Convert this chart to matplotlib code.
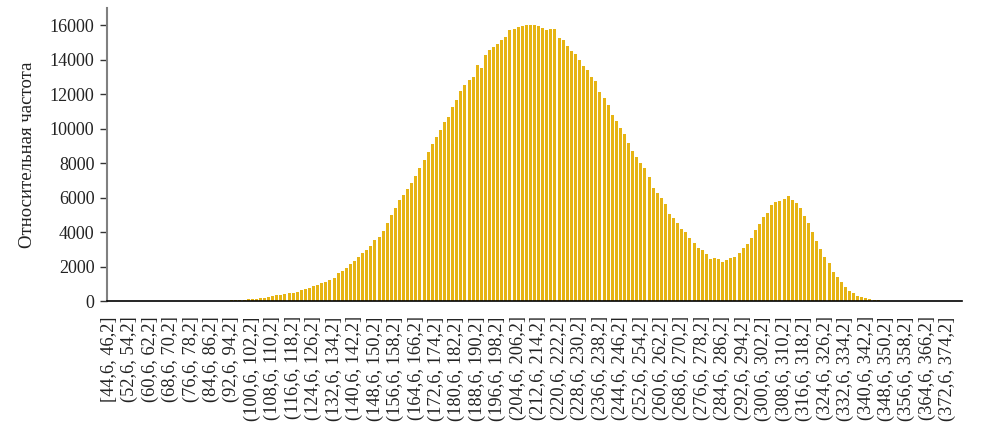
import matplotlib
matplotlib.use("Agg")
import matplotlib.pyplot as plt
import numpy as np

plt.rcParams['font.family'] = ['Liberation Serif', 'DejaVu Serif']

# Frequencies per bin of width 1,6 starting at 44,6 (209 bins)
frequencies = (
    [0] * 28 +
    [5, 15, 30, 45, 60, 75, 95,
     116, 135, 155, 193, 232, 290, 330, 367, 406, 444, 464, 522, 618, 676,
     773, 850, 947, 1063, 1121, 1237, 1353, 1623, 1758, 1913, 2126, 2300,
     2531, 2763, 2976, 3188, 3550, 3720, 4039, 4550,
     4986, 5410, 5855, 6145, 6493, 6821, 7265, 7690, 8174, 8657, 9082, 9526,
     9913, 10396, 10686, 11266, 11652, 12174, 12522, 12812, 13005, 13681,
     13526, 14261, 14551, 14744, 14937, 15130, 15323, 15710, 15806, 15903,
     15961, 16038, 16038, 16038, 15961, 15845, 15740, 15800, 15800, 15266,
     15130, 14802, 14493, 14358, 13971, 13642, 13430, 13005, 12754, 12135,
     11787, 11401, 10783, 10435, 10048, 9662, 9140, 8696, 8367, 7981, 7691,
     7208, 6532, 6242, 5990, 5604, 5024, 4793, 4503, 4174, 3981, 3671, 3343,
     3092, 2957, 2740, 2435, 2474, 2435, 2280, 2377, 2474, 2532, 2802, 3092,
     3304, 3633, 4116, 4464, 4889, 5121, 5565, 5758, 5816, 5893, 6087, 5855,
     5700, 5372, 4928, 4503, 4020, 3498, 2996, 2570, 2184, 1700, 1411, 1121,
     792, 580, 444, 309, 251, 193, 116, 77, 40, 20] +
    [0] * 19
)

# Visible category labels (every 5th bin)
tick_labels = [
    "[44,6, 46,2]", "(52,6, 54,2]", "(60,6, 62,2]", "(68,6, 70,2]",
    "(76,6, 78,2]", "(84,6, 86,2]", "(92,6, 94,2]", "(100,6, 102,2]",
    "(108,6, 110,2]", "(116,6, 118,2]", "(124,6, 126,2]", "(132,6, 134,2]",
    "(140,6, 142,2]", "(148,6, 150,2]", "(156,6, 158,2]", "(164,6, 166,2]",
    "(172,6, 174,2]", "(180,6, 182,2]", "(188,6, 190,2]", "(196,6, 198,2]",
    "(204,6, 206,2]", "(212,6, 214,2]", "(220,6, 222,2]", "(228,6, 230,2]",
    "(236,6, 238,2]", "(244,6, 246,2]", "(252,6, 254,2]", "(260,6, 262,2]",
    "(268,6, 270,2]", "(276,6, 278,2]", "(284,6, 286,2]", "(292,6, 294,2]",
    "(300,6, 302,2]", "(308,6, 310,2]", "(316,6, 318,2]", "(324,6, 326,2]",
    "(332,6, 334,2]", "(340,6, 342,2]", "(348,6, 350,2]", "(356,6, 358,2]",
    "(364,6, 366,2]", "(372,6, 374,2]",
]
label_step = 5
y_label = "Относительная частота"

fig = plt.figure(figsize=(9.81, 4.33), dpi=100)
ax = fig.add_axes([107 / 981, 1 - 301 / 433, (962 - 107) / 981, (301 - 8) / 433])

x = np.arange(len(frequencies))
ax.bar(x, frequencies, width=0.75, color='#E6B414', edgecolor='none')

ax.set_xlim(-0.5, len(frequencies) - 0.5)
ax.set_ylim(0, 17000)
ax.set_yticks(np.arange(0, 16001, 2000))
ax.tick_params(axis='y', labelsize=13, colors='#333333', length=5, width=1,
               direction='out', pad=4)
for lbl in ax.get_yticklabels():
    lbl.set_color('#222222')

ax.set_xticks(np.arange(0, len(tick_labels) * label_step, label_step))
ax.set_xticklabels(tick_labels, rotation=90, fontsize=13.2, color='#222222',
                   va='top', ha='center')
ax.tick_params(axis='x', length=0, pad=11)

ax.spines['top'].set_visible(False)
ax.spines['right'].set_visible(False)
ax.spines['left'].set_color('#808080')
ax.spines['left'].set_linewidth(1.5)
ax.spines['bottom'].set_color('#000000')
ax.spines['bottom'].set_linewidth(1.2)

ax.set_ylabel(y_label, fontsize=13.5, color='#222222')
ax.yaxis.set_label_coords(-0.083, 0.498)

fig.savefig("out.png", dpi=100)
